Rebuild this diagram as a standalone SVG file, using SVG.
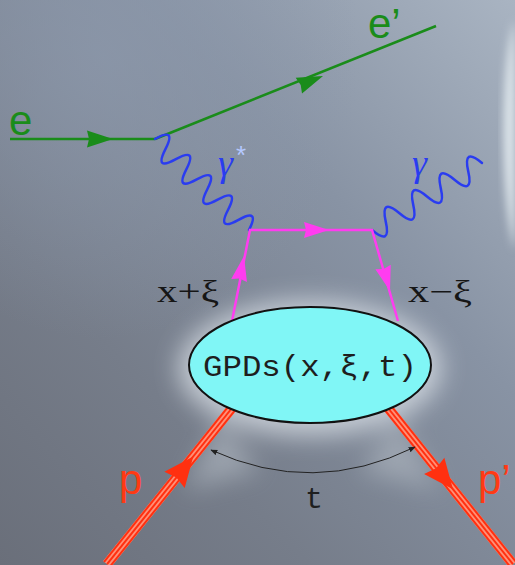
<svg xmlns="http://www.w3.org/2000/svg" width="515" height="565" viewBox="0 0 515 565">
<defs>
  <linearGradient id="bg" x1="1" y1="0" x2="0" y2="1">
    <stop offset="0" stop-color="#a9b4c2"/>
    <stop offset="0.35" stop-color="#8893a4"/>
    <stop offset="0.7" stop-color="#767d8a"/>
    <stop offset="1" stop-color="#6a6f7a"/>
  </linearGradient>
  <radialGradient id="tl" cx="0.2" cy="0.1" r="0.5">
    <stop offset="0" stop-color="#8c98ab" stop-opacity="0.7"/>
    <stop offset="1" stop-color="#8c98ab" stop-opacity="0"/>
  </radialGradient>
  <filter id="blur" x="-50%" y="-50%" width="200%" height="200%">
    <feGaussianBlur stdDeviation="12"/>
  </filter>
  <filter id="blur2" x="-50%" y="-50%" width="200%" height="200%">
    <feGaussianBlur stdDeviation="4"/>
  </filter>
  <path id="ah" d="M0,0 L-26,-8.5 L-24,0 L-26,8.5 Z"/>
  <path id="ahp" d="M0,0 L-25,-8 L-23,0 L-25,8 Z"/>
  <path id="ahr" d="M0,0 L-30,-13 L-27,0 L-30,13 Z"/>
  <marker id="tip" viewBox="0 0 10 10" refX="9" refY="5" markerWidth="7" markerHeight="7" orient="auto-start-reverse" markerUnits="userSpaceOnUse">
    <path d="M0,1 L10,5 L0,9 Z" fill="#222"/>
  </marker>
  <style>
    .el { stroke:#1a8c1a; stroke-width:2.5; fill:none; }
    .ph { stroke:#2a3cf0; stroke-width:2.5; fill:none; stroke-linecap:round; }
    .q { stroke:#ff3cf0; stroke-width:2.5; fill:none; }
    .pr { stroke:#ff3010; stroke-width:2; fill:none; }
    .prbg { stroke:#ff9078; stroke-width:10; fill:none; }
    .lblg { font-family:"Liberation Sans", Arial, sans-serif; fill:#1a8c1a; font-size:42px; }
    .lblr { font-family:"Liberation Sans", Arial, sans-serif; fill:#ff3a14; font-size:42px; }
    .lblm { font-family:"Liberation Serif", "DejaVu Serif", serif; fill:#161616; font-size:31px; }
    .gam { font-family:"Liberation Serif", "DejaVu Serif", serif; font-style:italic; fill:#2a3cf0; font-size:38px; }
    .mono { font-family:"Liberation Mono", "DejaVu Sans Mono", monospace; fill:#1e1e1e; font-size:30px; }
  </style>
</defs>

<!-- background -->
<rect x="0" y="0" width="515" height="565" fill="url(#bg)"/>
<rect x="0" y="0" width="515" height="565" fill="url(#tl)"/>
<path d="M515,20 C500,60 500,200 515,250 Z" fill="#dfe7ec" filter="url(#blur2)"/>

<!-- glow around blob -->
<g filter="url(#blur)" opacity="0.7">
  <ellipse cx="310" cy="368" rx="132" ry="68" fill="#e2e8ee"/>
  <path d="M220,420 L185,490 L260,470 Z" fill="#aab2bc"/>
  <path d="M400,420 L440,490 L360,470 Z" fill="#aab2bc"/>
</g>

<g id="connectors">
  <!-- electron -->
  <g id="electron-in">
    <line class="el" x1="10" y1="139" x2="155" y2="139"/>
    <use href="#ah" transform="translate(113,139)" fill="#1a8c1a"/>
  </g>
  <g id="electron-out">
    <line class="el" x1="155" y1="139" x2="436" y2="26"/>
    <use href="#ah" transform="translate(323,76) rotate(-21.77)" fill="#1a8c1a"/>
  </g>
  <!-- virtual photon -->
  <g id="photon-virtual" transform="translate(155,139) rotate(44.07)">
    <path class="ph" d="M0,0 q7.27,-24 14.53,0 t14.53,0 t14.53,0 t14.53,0 t14.53,0 t14.53,0 t14.53,0 t14.53,0 t14.53,0"/>
  </g>
  <!-- real photon -->
  <g id="photon-real" transform="translate(372,230) rotate(-31.35)">
    <path class="ph" d="M0,0 q8.05,24 16.1,0 t16.1,0 t16.1,0 t16.1,0 t16.1,0 t16.1,0 t16.1,0 t16.1,0"/>
  </g>
  <!-- quark lines -->
  <g id="quarks">
    <path class="q" d="M232,321 L250,230 L372,230 L398,321"/>
    <use href="#ahp" transform="translate(329,230)" fill="#ff3cf0"/>
    <use href="#ahp" transform="translate(244,256) rotate(-78.69)" fill="#ff3cf0"/>
    <use href="#ahp" transform="translate(390,291) rotate(73.9)" fill="#ff3cf0"/>
  </g>
  <!-- protons -->
  <g id="proton-in" transform="translate(232,408) rotate(128.66)">
    <line class="prbg" x1="0" y1="0" x2="200" y2="0"/>
    <line class="pr" x1="0" y1="-3.8" x2="200" y2="-3.8"/>
    <line class="pr" x1="0" y1="0" x2="200" y2="0"/>
    <line class="pr" x1="0" y1="3.8" x2="200" y2="3.8"/>
    <use href="#ahr" transform="translate(62,0) rotate(180)" fill="#ff3010"/>
  </g>
  <g id="proton-out" transform="translate(388,408) rotate(51.34)">
    <line class="prbg" x1="0" y1="0" x2="200" y2="0"/>
    <line class="pr" x1="0" y1="-3.8" x2="200" y2="-3.8"/>
    <line class="pr" x1="0" y1="0" x2="200" y2="0"/>
    <line class="pr" x1="0" y1="3.8" x2="200" y2="3.8"/>
    <use href="#ahr" transform="translate(104,0)" fill="#ff3010"/>
  </g>
  <!-- t arc -->
  <path id="t-arc" d="M211,450 Q313,497 415,447" fill="none" stroke="#222" stroke-width="1" marker-start="url(#tip)" marker-end="url(#tip)"/>
</g>

<!-- GPD blob -->
<g id="gpd">
  <ellipse cx="310" cy="365" rx="121" ry="58" fill="#80f6f6" stroke="#111" stroke-width="2"/>
  <text class="mono" x="310" y="376" text-anchor="middle" textLength="214" lengthAdjust="spacingAndGlyphs">GPDs(x,ξ,t)</text>
</g>

<!-- labels -->
<g id="labels">
  <text class="lblg" x="9" y="135">e</text>
  <text class="lblg" x="368" y="38">e’</text>
  <text class="gam" x="218" y="176">γ</text>
  <text x="236" y="164" font-family="Liberation Sans, sans-serif" font-size="26" fill="#b4c8ff">*</text>
  <text class="gam" x="412" y="176">γ</text>
  <text class="lblm" x="157" y="302" textLength="62" lengthAdjust="spacingAndGlyphs">x+ξ</text>
  <text class="lblm" x="408" y="302" textLength="64" lengthAdjust="spacingAndGlyphs">x−ξ</text>
  <text class="lblr" x="119" y="494">p</text>
  <text class="lblr" x="478" y="494">p’</text>
  <text class="mono" x="314" y="508" text-anchor="middle" font-size="32">t</text>
</g>
</svg>
